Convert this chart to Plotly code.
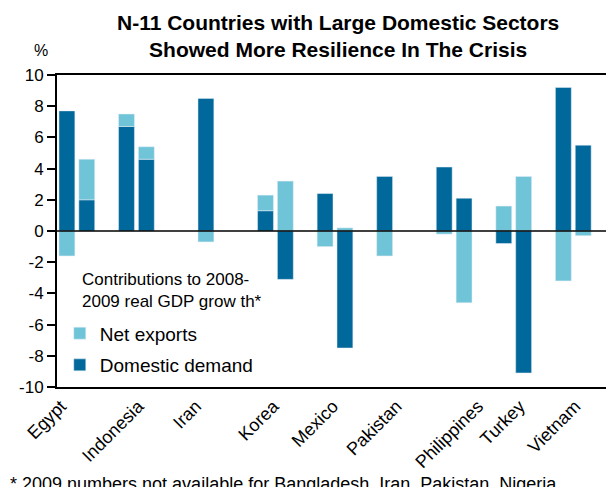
import plotly.graph_objects as go

# ---- data ----
countries = ["Egypt", "Indonesia", "Iran", "Korea", "Mexico", "Pakistan",
             "Philippines", "Turkey", "Vietnam"]
domestic_2008 = [7.7, 6.7, 8.5, 1.3, 2.4, 3.5, 4.1, -0.8, 9.2]
net_exports_2008 = [-1.6, 0.8, -0.7, 1.0, -1.0, -1.6, -0.2, 1.6, -3.2]
domestic_2009 = [2.0, 4.6, None, -3.1, -7.5, None, 2.1, -9.1, 5.5]
net_exports_2009 = [2.6, 0.8, None, 3.2, 0.2, None, -4.6, 3.5, -0.3]
y_ticks = [-10, -8, -6, -4, -2, 0, 2, 4, 6, 8, 10]
y_tick_text = ["-10", "-8", "-6", "-4", "-2", "0", "2", "4", "6", "8", "10"]

# ---- layout constants ----
slot_start = [0, 3, 7, 10, 13, 16, 19, 22, 25]
label_pos = [-0.3, 3.6, 6.5, 10.4, 13.4, 16.6, 20.7, 22.8, 25.6]

DARK = "#00689A"
LIGHT = "#70C4D8"
FONT = "Liberation Sans, Arial, sans-serif"

xd, yd, xn, yn = [], [], [], []
for i, c in enumerate(countries):
    for k, (d, n) in enumerate([(domestic_2008[i], net_exports_2008[i]),
                                (domestic_2009[i], net_exports_2009[i])]):
        if d is None:
            continue
        xd.append(slot_start[i] + k); yd.append(d)
        xn.append(slot_start[i] + k); yn.append(n)

fig = go.Figure()
fig.add_trace(go.Bar(x=xd, y=yd, name="Domestic demand", marker_color=DARK,
                     width=0.8, legendgroup="d", legendrank=2))
fig.add_trace(go.Bar(x=xn, y=yn, name="Net exports", marker_color=LIGHT,
                     width=0.8, legendgroup="n", legendrank=1))

# page body has an 8px margin, so the figure is sized to fill the rest
fig.update_layout(
    width=606, height=479,
    margin=dict(l=49, r=1, t=67, b=100),
    barmode="relative",
    plot_bgcolor="white", paper_bgcolor="white",
    font=dict(family=FONT, color="black"),
    legend=dict(
        x=0.005, xanchor="left", y=0.233, yanchor="top",
        font=dict(size=19), bgcolor="rgba(255,255,255,0)",
        traceorder="grouped", tracegroupgap=4,
    ),
    xaxis=dict(range=[-0.5, 27.5], tickvals=label_pos, ticktext=countries,
               tickangle=-45, showgrid=False, zeroline=False, ticks="",
               showline=True, linecolor="black", linewidth=1.5, mirror=True,
               tickfont=dict(size=18), automargin=False),
    yaxis=dict(range=[-10, 10], tickvals=y_ticks, ticktext=y_tick_text,
               showgrid=False, zeroline=False,
               ticks="outside", ticklen=8, tickcolor="black", tickwidth=1.5,
               showline=True, linecolor="black", linewidth=2, mirror=True,
               tickfont=dict(size=17), automargin=False),
    shapes=[dict(type="line", xref="paper", x0=0, x1=1, yref="y", y0=0, y1=0,
                 line=dict(color="black", width=1.5), layer="above")],
    annotations=[
        dict(text="<b>N-11 Countries with Large Domestic Sectors<br>Showed More Resilience In The Crisis</b>",
             xref="paper", yref="paper", x=0.506, xanchor="center",
             y=1.126, yanchor="middle", showarrow=False,
             font=dict(size=21, family=FONT, color="black")),
        dict(text="%", xref="paper", yref="paper", x=-0.045, y=1.111,
             showarrow=False, font=dict(size=16)),
        dict(text="Contributions to 2008-<br>2009 real GDP grow th*",
             xref="paper", yref="paper", x=0.041, xanchor="left",
             y=0.31, yanchor="middle", align="left", showarrow=False,
             font=dict(size=17)),
        dict(text="* 2009 numbers not available for Bangladesh, Iran, Pakistan, Nigeria",
             xref="paper", yref="paper", x=-0.088, xanchor="left",
             y=-0.273, yanchor="top", showarrow=False, font=dict(size=18)),
    ],
)

fig.write_html("out.html")
